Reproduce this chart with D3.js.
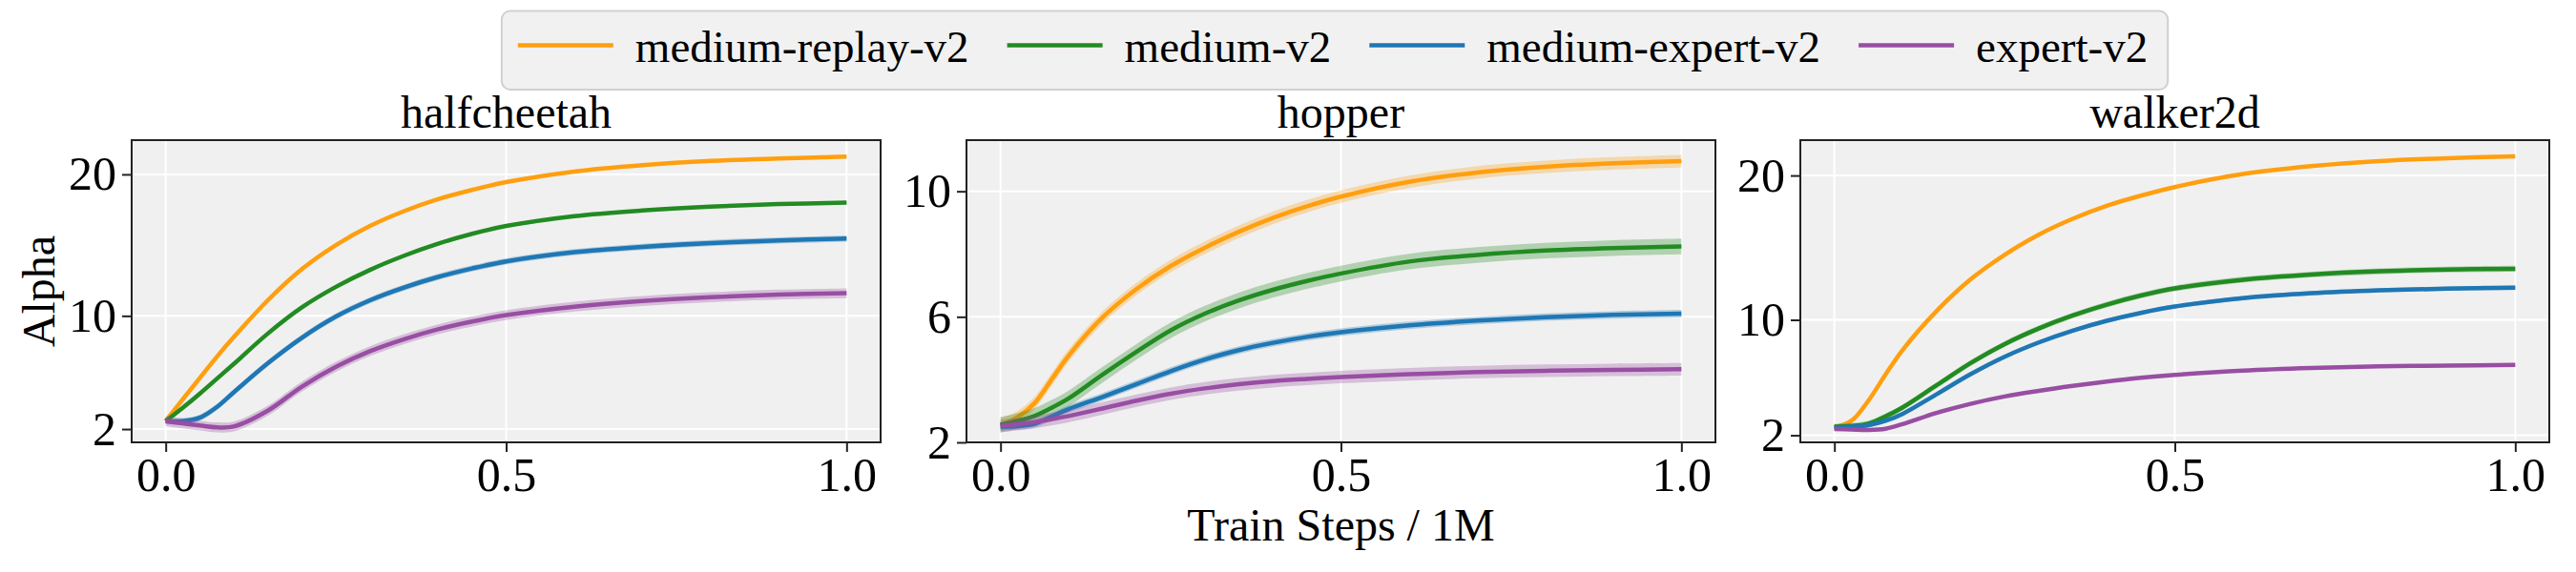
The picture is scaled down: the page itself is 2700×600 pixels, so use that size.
<!DOCTYPE html>
<html>
<head>
<meta charset="UTF-8">
<title>alpha curves</title>
<script src="https://cdn.jsdelivr.net/npm/d3@7"></script>
<style>
  body { margin: 0; background: #fff; }
  svg text { font-family: "Liberation Serif", "Times New Roman", serif; fill: #000; }
</style>
</head>
<body>
<svg width="2700" height="600"></svg>
<script>
// ---- data ----
var envNames = ["halfcheetah", "hopper", "walker2d"];
var seriesNames = ["medium-replay-v2", "medium-v2", "medium-expert-v2", "expert-v2"];
var seriesColors = ["#ff9f0f", "#228b22", "#1f77b4", "#984ea3"];
var steps = [0, 0.025, 0.05, 0.075, 0.1, 0.15, 0.2, 0.25, 0.3, 0.35, 0.4, 0.45, 0.5, 0.6, 0.7, 0.8, 0.9, 1.0];
var xTicks = [0, 0.5, 1.0];
var yTicks = [[2, 10, 20], [2, 6, 10], [2, 10, 20]];
var yLimits = [[1.06, 22.42], [2.0, 11.63], [1.51, 22.45]];

var hcReplay = [2.56, 4.1, 5.6, 7.1, 8.5, 11.1, 13.3, 15.0, 16.35, 17.4, 18.25, 18.9, 19.45, 20.2, 20.65, 20.95, 21.12, 21.25];
var hcMedium = [2.56, 3.5, 4.5, 5.55, 6.6, 8.75, 10.6, 12.05, 13.25, 14.25, 15.1, 15.8, 16.35, 17.05, 17.45, 17.72, 17.9, 18.0];
var hcMedExp = [2.56, 2.56, 2.8, 3.55, 4.6, 6.65, 8.45, 9.95, 11.1, 12.0, 12.75, 13.35, 13.85, 14.5, 14.88, 15.15, 15.33, 15.47];
var hcExpert = [2.56, 2.4, 2.25, 2.12, 2.18, 3.3, 5.0, 6.4, 7.5, 8.35, 9.05, 9.6, 10.05, 10.65, 11.05, 11.32, 11.5, 11.6];
var hcSpread = [0.08, 0.08, 0.22, 0.35];

var hopReplay = [2.56, 2.8, 3.25, 4.0, 4.76, 5.98, 6.89, 7.62, 8.2, 8.71, 9.15, 9.52, 9.83, 10.3, 10.6, 10.78, 10.89, 10.96];
var hopMedium = [2.56, 2.68, 2.84, 3.1, 3.4, 4.16, 4.89, 5.57, 6.1, 6.52, 6.86, 7.14, 7.38, 7.76, 7.97, 8.11, 8.19, 8.24];
var hopMedExp = [2.5, 2.52, 2.59, 2.82, 3.06, 3.45, 3.86, 4.27, 4.64, 4.94, 5.17, 5.36, 5.51, 5.73, 5.88, 5.99, 6.06, 6.1];
var hopExpert = [2.52, 2.58, 2.65, 2.74, 2.84, 3.08, 3.33, 3.55, 3.72, 3.85, 3.95, 4.02, 4.08, 4.17, 4.24, 4.28, 4.31, 4.33];
var hopSpread = [0.2, 0.25, 0.12, 0.2];

var wkReplay = [2.55, 3.0, 4.4, 6.2, 7.9, 10.6, 12.8, 14.5, 15.9, 17.0, 17.9, 18.6, 19.2, 20.1, 20.65, 21.0, 21.2, 21.32];
var wkMedium = [2.6, 2.65, 2.81, 3.3, 3.92, 5.46, 7.0, 8.32, 9.4, 10.3, 11.05, 11.68, 12.18, 12.78, 13.14, 13.36, 13.48, 13.54];
var wkMedExp = [2.55, 2.6, 2.7, 3.0, 3.48, 4.84, 6.23, 7.44, 8.43, 9.25, 9.93, 10.48, 10.92, 11.5, 11.84, 12.04, 12.16, 12.22];
var wkExpert = [2.44, 2.4, 2.37, 2.45, 2.77, 3.55, 4.18, 4.69, 5.08, 5.42, 5.72, 5.98, 6.18, 6.48, 6.66, 6.77, 6.83, 6.87];
var wkSpread = [0.05, 0.2, 0.15, 0.1];

var envMeans = [
    [hcReplay, hcMedium, hcMedExp, hcExpert],
    [hopReplay, hopMedium, hopMedExp, hopExpert],
    [wkReplay, wkMedium, wkMedExp, wkExpert]
];
var envSpread = [hcSpread, hopSpread, wkSpread];

// ---- layout ----
var svg = d3.select("svg");
var tickFont = 50, labelFont = 48, legendFont = 47;
var panelLeft = [138, 1013, 1887],
    panelW = 785,
    panelTop = 147,
    panelBottom = 464;

envNames.forEach(function (env, p) {
    var x = d3.scaleLinear().domain([-0.05, 1.05]).range([panelLeft[p], panelLeft[p] + panelW]);
    var y = d3.scaleLinear().domain(yLimits[p]).range([panelBottom, panelTop]);
    var g = svg.append("g");

    g.append("rect")
        .attr("x", x.range()[0]).attr("y", panelTop)
        .attr("width", panelW).attr("height", panelBottom - panelTop)
        .attr("fill", "#f0f0f0");

    // grid
    g.selectAll(".vgrid").data(xTicks).enter().append("line")
        .attr("x1", d => x(d)).attr("x2", d => x(d))
        .attr("y1", panelTop).attr("y2", panelBottom)
        .attr("stroke", "#fff").attr("stroke-width", 2);
    g.selectAll(".hgrid").data(yTicks[p]).enter().append("line")
        .attr("x1", x.range()[0]).attr("x2", x.range()[1])
        .attr("y1", d => y(d)).attr("y2", d => y(d))
        .attr("stroke", "#fff").attr("stroke-width", 2);

    var area = d3.area()
        .x(d => x(d.s))
        .y0(d => y(d.v - d.e))
        .y1(d => y(d.v + d.e))
        .curve(d3.curveCatmullRom.alpha(0.5));
    var line = d3.line()
        .x(d => x(d.s))
        .y(d => y(d.v))
        .curve(d3.curveCatmullRom.alpha(0.5));

    envMeans[p].forEach(function (vals, k) {
        var pts = steps.map(function (s, i) { return {s: s, v: vals[i], e: envSpread[p][k]}; });
        g.append("path").datum(pts)
            .attr("d", area)
            .attr("fill", seriesColors[k])
            .attr("fill-opacity", 0.3);
        g.append("path").datum(pts)
            .attr("d", line)
            .attr("fill", "none")
            .attr("stroke", seriesColors[k])
            .attr("stroke-width", 4.5);
    });

    // frame
    g.append("rect")
        .attr("x", x.range()[0]).attr("y", panelTop)
        .attr("width", panelW).attr("height", panelBottom - panelTop)
        .attr("fill", "none").attr("stroke", "#222").attr("stroke-width", 2);

    var xAxis = g.append("g")
        .attr("transform", "translate(0," + panelBottom + ")")
        .call(d3.axisBottom(x).tickValues(xTicks).tickFormat(d3.format(".1f")).tickSize(10).tickPadding(5));
    var yAxis = g.append("g")
        .attr("transform", "translate(" + x.range()[0] + ",0)")
        .call(d3.axisLeft(y).tickValues(yTicks[p]).tickFormat(d3.format("d")).tickSize(10).tickPadding(6));
    [xAxis, yAxis].forEach(function (a) {
        a.select(".domain").remove();
        a.selectAll("line").attr("stroke", "#222").attr("stroke-width", 2);
        a.selectAll("text")
            .attr("font-family", "Liberation Serif, Times New Roman, serif")
            .attr("font-size", tickFont).attr("fill", "#000");
    });

    g.append("text")
        .attr("x", x.range()[0] + panelW / 2).attr("y", 134)
        .attr("text-anchor", "middle")
        .attr("font-size", labelFont)
        .text(env);
});

svg.append("text")
    .attr("transform", "translate(57," + (panelTop + panelBottom) / 2 + ") rotate(-90)")
    .attr("text-anchor", "middle")
    .attr("font-size", labelFont)
    .text("Alpha");

svg.append("text")
    .attr("x", panelLeft[1] + panelW / 2).attr("y", 567)
    .attr("text-anchor", "middle")
    .attr("font-size", labelFont)
    .text("Train Steps / 1M");

// ---- legend ----
var legend = svg.append("g");
var box = legend.append("rect")
    .attr("rx", 9).attr("ry", 9)
    .attr("fill", "#f1f1f1").attr("stroke", "#d0d0d0").attr("stroke-width", 2);
var cursor = 0;
seriesNames.forEach(function (name, k) {
    legend.append("line")
        .attr("x1", cursor).attr("x2", cursor + 100)
        .attr("y1", 47.5).attr("y2", 47.5)
        .attr("stroke", seriesColors[k]).attr("stroke-width", 4.5);
    var t = legend.append("text")
        .attr("x", cursor + 123).attr("y", 65)
        .attr("font-size", legendFont)
        .text(name);
    cursor += 123 + t.node().getComputedTextLength() + (k < seriesNames.length - 1 ? 40 : 0);
});
box.attr("x", -17).attr("y", 11.5).attr("width", cursor + 17 + 21).attr("height", 82.5);
var legendLeft = 1399 - (cursor + 38) / 2 + 17;
legend.attr("transform", "translate(" + legendLeft + ",0)");
</script>
</body>
</html>
